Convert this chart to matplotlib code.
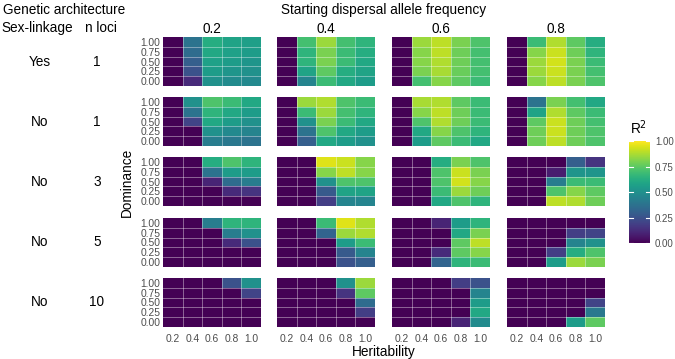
import numpy as np
import matplotlib.pyplot as plt

plt.rcParams['font.family'] = ['Liberation Sans', 'DejaVu Sans']

heritability = [0.2, 0.4, 0.6, 0.8, 1.0]
dominance = [0.0, 0.25, 0.5, 0.75, 1.0]
start_freq = ['0.2', '0.4', '0.6', '0.8']
sex_linkage = ['Yes', 'No', 'No', 'No', 'No']
n_loci = ['1', '1', '3', '5', '10']

# R^2, one matrix per starting frequency
# matrix rows: dominance 1.00 (top) -> 0.00 (bottom), cols: heritability 0.2 -> 1.0
r2_yes_1 = [
    [[0, 0.38, 0.62, 0.58, 0.56],
     [0, 0.35, 0.60, 0.57, 0.55],
     [0, 0.30, 0.57, 0.55, 0.52],
     [0, 0.25, 0.55, 0.52, 0.50],
     [0, 0.12, 0.50, 0.48, 0.47]],
    [[0, 0.70, 0.85, 0.70, 0.65],
     [0, 0.65, 0.80, 0.68, 0.62],
     [0, 0.65, 0.80, 0.68, 0.60],
     [0, 0.58, 0.75, 0.62, 0.58],
     [0, 0.45, 0.68, 0.60, 0.55]],
    [[0, 0.85, 0.90, 0.80, 0.72],
     [0, 0.82, 0.90, 0.78, 0.70],
     [0, 0.82, 0.88, 0.78, 0.70],
     [0, 0.80, 0.87, 0.77, 0.70],
     [0, 0.70, 0.82, 0.75, 0.68]],
    [[0, 0.68, 0.88, 0.75, 0.62],
     [0, 0.82, 0.92, 0.78, 0.65],
     [0, 0.85, 0.93, 0.80, 0.68],
     [0, 0.85, 0.92, 0.80, 0.70],
     [0, 0.82, 0.90, 0.80, 0.72]],
]
r2_no_1 = [
    [[0, 0.50, 0.72, 0.68, 0.60],
     [0, 0.38, 0.65, 0.60, 0.55],
     [0, 0.20, 0.60, 0.55, 0.50],
     [0, 0.00, 0.50, 0.47, 0.45],
     [0, 0.00, 0.42, 0.40, 0.38]],
    [[0, 0.85, 0.88, 0.72, 0.68],
     [0, 0.68, 0.85, 0.70, 0.65],
     [0, 0.50, 0.80, 0.68, 0.60],
     [0, 0.38, 0.72, 0.60, 0.55],
     [0, 0.30, 0.60, 0.55, 0.50]],
    [[0, 0.87, 0.88, 0.75, 0.68],
     [0, 0.82, 0.90, 0.78, 0.68],
     [0, 0.72, 0.88, 0.78, 0.68],
     [0, 0.60, 0.82, 0.72, 0.65],
     [0, 0.55, 0.75, 0.68, 0.60]],
    [[0, 0.38, 0.80, 0.70, 0.60],
     [0, 0.58, 0.88, 0.75, 0.68],
     [0, 0.75, 0.92, 0.78, 0.70],
     [0, 0.78, 0.92, 0.78, 0.72],
     [0, 0.78, 0.90, 0.78, 0.72]],
]
r2_no_3 = [
    [[0, 0, 0.62, 0.72, 0.65],
     [0, 0, 0.38, 0.55, 0.55],
     [0, 0, 0.10, 0.35, 0.42],
     [0, 0, 0.00, 0.12, 0.15],
     [0, 0, 0.00, 0.00, 0.00]],
    [[0, 0, 0.95, 0.92, 0.82],
     [0, 0, 0.82, 0.90, 0.82],
     [0, 0, 0.50, 0.72, 0.72],
     [0, 0, 0.28, 0.58, 0.58],
     [0, 0, 0.18, 0.45, 0.45]],
    [[0, 0, 0.62, 0.80, 0.72],
     [0, 0, 0.72, 0.92, 0.80],
     [0, 0, 0.72, 0.93, 0.82],
     [0, 0, 0.68, 0.85, 0.78],
     [0, 0, 0.60, 0.72, 0.65]],
    [[0, 0, 0.00, 0.30, 0.15],
     [0, 0, 0.08, 0.52, 0.52],
     [0, 0, 0.42, 0.68, 0.68],
     [0, 0, 0.72, 0.82, 0.75],
     [0, 0, 0.90, 0.88, 0.78]],
]
r2_no_5 = [
    [[0, 0, 0.42, 0.65, 0.65],
     [0, 0, 0.00, 0.42, 0.50],
     [0, 0, 0.00, 0.12, 0.25],
     [0, 0, 0.00, 0.00, 0.00],
     [0, 0, 0.00, 0.00, 0.00]],
    [[0, 0, 0.68, 0.95, 0.88],
     [0, 0, 0.32, 0.85, 0.88],
     [0, 0, 0.00, 0.55, 0.68],
     [0, 0, 0.00, 0.28, 0.45],
     [0, 0, 0.00, 0.25, 0.30]],
    [[0, 0, 0.10, 0.55, 0.65],
     [0, 0, 0.00, 0.60, 0.80],
     [0, 0, 0.00, 0.75, 0.90],
     [0, 0, 0.12, 0.75, 0.82],
     [0, 0, 0.32, 0.65, 0.68]],
    [[0, 0, 0.00, 0.00, 0.00],
     [0, 0, 0.00, 0.18, 0.20],
     [0, 0, 0.00, 0.45, 0.50],
     [0, 0, 0.18, 0.62, 0.72],
     [0, 0, 0.55, 0.85, 0.80]],
]
r2_no_10 = [
    [[0, 0, 0, 0.25, 0.50],
     [0, 0, 0, 0.00, 0.20],
     [0, 0, 0, 0.00, 0.00],
     [0, 0, 0, 0.00, 0.00],
     [0, 0, 0, 0.00, 0.00]],
    [[0, 0, 0, 0.50, 0.85],
     [0, 0, 0, 0.15, 0.75],
     [0, 0, 0, 0.00, 0.35],
     [0, 0, 0, 0.00, 0.18],
     [0, 0, 0, 0.00, 0.00]],
    [[0, 0, 0, 0.18, 0.25],
     [0, 0, 0, 0.00, 0.45],
     [0, 0, 0, 0.00, 0.55],
     [0, 0, 0, 0.00, 0.60],
     [0, 0, 0, 0.10, 0.48]],
    [[0, 0, 0, 0.00, 0.00],
     [0, 0, 0, 0.00, 0.00],
     [0, 0, 0, 0.00, 0.20],
     [0, 0, 0, 0.00, 0.40],
     [0, 0, 0, 0.55, 0.75]],
]
rows = [r2_yes_1, r2_no_1, r2_no_3, r2_no_5, r2_no_10]

W, H = 675, 359
fig = plt.figure(figsize=(W / 100, H / 100), dpi=100)

def px_ax(x, y, w, h):
    # pixel box (top-left origin) -> axes
    return fig.add_axes([x / W, 1 - (y + h) / H, w / W, h / H])

def px_text(x, y, s, **kw):
    fig.text(x / W, 1 - y / H, s, **kw)

col_x = [163, 277, 392, 507]
row_y = [37, 97, 157, 218, 278]
pw, ph = 98, 49

xedges = np.array(heritability + [1.2]) - 0.1
yedges = np.array(dominance + [1.25]) - 0.125
tick_col = '#4d4d4d'
tsize = 9.8

for i, mats in enumerate(rows):
    for j, m in enumerate(mats):
        ax = px_ax(col_x[j], row_y[i], pw, ph)
        z = np.array(m)[::-1]
        mesh = ax.pcolormesh(xedges, yedges, z, cmap='viridis', vmin=0, vmax=1)
        for v in xedges[1:-1]:
            ax.axvline(v, color='white', lw=0.6, alpha=0.45)
        for v in yedges[1:-1]:
            ax.axhline(v, color='white', lw=0.6, alpha=0.45)
        ax.set_xlim(xedges[0], xedges[-1])
        ax.set_ylim(yedges[0], yedges[-1])
        for s in ax.spines.values():
            s.set_visible(False)
        ax.tick_params(length=0, labelsize=7.4, labelcolor=tick_col, pad=2)
        ax.set_xticks(heritability)
        ax.set_yticks(dominance)
        if i == len(rows) - 1:
            ax.set_xticklabels(['%.1f' % h for h in heritability])
            ax.tick_params(axis='x', pad=5)
        else:
            ax.set_xticklabels([])
        if j == 0:
            ax.set_yticklabels(['%.2f' % d for d in dominance])
        else:
            ax.set_yticklabels([])
        if i == 0:
            ax.set_title(start_freq[j], fontsize=tsize, pad=3)

# row labels
for i in range(len(rows)):
    yc = row_y[i] + ph / 2
    px_text(40, yc, sex_linkage[i], fontsize=tsize, ha='center', va='center')
    px_text(97, yc, n_loci[i], fontsize=tsize, ha='center', va='center')

px_text(64, 10, 'Genetic architecture', fontsize=tsize, ha='center', va='center')
px_text(1.5, 28, 'Sex-linkage', fontsize=tsize, ha='left', va='center')
px_text(101, 28, 'n loci', fontsize=tsize, ha='center', va='center')
px_text(384, 10, 'Starting dispersal allele frequency', fontsize=tsize, ha='center', va='center')
px_text(127, 182, 'Dominance', fontsize=tsize, ha='center', va='center', rotation=90)
px_text(384, 352, 'Heritability', fontsize=tsize, ha='center', va='center')

# colour bar
cax = px_ax(629, 141, 21, 102)
cb = fig.colorbar(mesh, cax=cax, ticks=[0, 0.25, 0.5, 0.75, 1.0])
cb.outline.set_visible(False)
cb.ax.set_yticklabels(['0.00', '0.25', '0.50', '0.75', '1.00'])
cb.ax.tick_params(length=0, labelsize=7.0, labelcolor=tick_col, pad=3.5)
for t in [0, 0.25, 0.5, 0.75, 1.0]:
    cax.plot([0, 0.2], [t, t], color='white', lw=0.8, transform=cax.get_yaxis_transform())
    cax.plot([0.8, 1], [t, t], color='white', lw=0.8, transform=cax.get_yaxis_transform())
px_text(639, 128, 'R$^2$', fontsize=tsize, ha='center', va='center')

fig.savefig('out.png', dpi=100)
